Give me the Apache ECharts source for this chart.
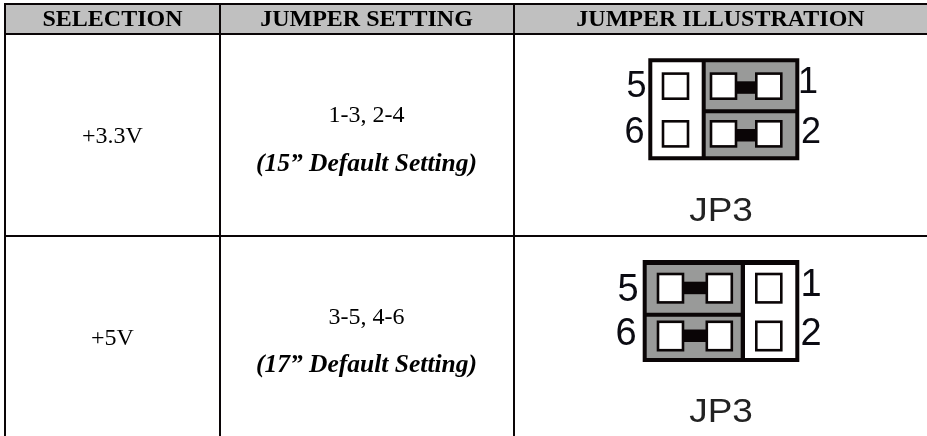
<!DOCTYPE html>
<html>
<head>
<meta charset="utf-8">
<style>html,body{margin:0;padding:0;background:#fff}#c{width:927px;height:436px}</style>
<script src="https://cdn.jsdelivr.net/npm/echarts@6/dist/echarts.min.js"></script>
</head>
<body>
<div id="c"></div>
<script>
var headers = ['SELECTION', 'JUMPER SETTING', 'JUMPER ILLUSTRATION'];
var selections = ['+3.3V', '+5V'];
var settings = ['1-3, 2-4', '3-5, 4-6'];
var notes = ['(15\u201D Default Setting)', '(17\u201D Default Setting)'];
var jumperName = ['JP3', 'JP3'];
var pinLabelsLeft = ['5', '6'];
var pinLabelsRight = ['1', '2'];
var shuntedSide = ['right', 'left'];

var BLACK = '#0a0506', GRAY = '#999a99', HEAD = '#c0c0c0';
var SERIF = '"Liberation Serif", serif', SANS = '"Liberation Sans", sans-serif';

function maker(api) {
  function rect(x0, y0, x1, y1, fill) {
    var a = api.coord([x0, y0]), b = api.coord([x1, y1]);
    return { type: 'rect', shape: { x: a[0], y: a[1], width: b[0] - a[0], height: b[1] - a[1] }, style: { fill: fill } };
  }
  function text(s, x, y, font, opt) {
    var a = api.coord([x, y]);
    return { type: 'text', style: Object.assign({ text: s, x: a[0], y: a[1], font: font, fill: '#000', align: 'center', verticalAlign: 'middle' }, opt || {}) };
  }
  return { rect: rect, text: text };
}

function renderFrame(params, api) {
  var m = maker(api);
  return { type: 'group', children: [
    m.rect(4, 5, 927, 33, HEAD),
    m.rect(4, 3, 927, 5, BLACK),
    m.rect(4, 33, 927, 35, BLACK),
    m.rect(4, 235, 927, 237, BLACK),
    m.rect(4, 3, 6, 436, BLACK),
    m.rect(219, 3, 221, 436, BLACK),
    m.rect(513, 3, 515, 436, BLACK)
  ]};
}

function renderHeader(params, api) {
  var m = maker(api), centers = [112.5, 366.5, 720.5];
  var i = api.value(0);
  return m.text(headers[i], centers[i], 19.5, 'bold 24px ' + SERIF);
}

function pin(m, x, y, w, h) {
  return [m.rect(x, y, x + w, y + h, BLACK), m.rect(x + 2.6, y + 2.6, x + w - 2.6, y + h - 2.6, '#fff')];
}

function renderRow(params, api) {
  var m = maker(api), r = api.value(0), kids = [];
  var right = shuntedSide[r] === 'right';
  var top = r === 0 ? 58.3 : 260;
  var L = r === 0 ? 648.3 : 642.7, R = 799.3;
  var y0 = top + 4, y1 = top + 51, y2 = top + 55, y3 = top + 98;
  if (r === 1) { y0 = top + 5; y1 = top + 52.7; y2 = top + 56.7; y3 = top + 98; }
  var bottom = top + 102;

  kids.push(m.text(selections[r], 112.5, r === 0 ? 137 : 339, '24px ' + SERIF));
  kids.push(m.text(settings[r], 366.5, r === 0 ? 116 : 318, '24px ' + SERIF));
  kids.push(m.text(notes[r], 366.5, r === 0 ? 164 : 365, 'italic bold 25.5px ' + SERIF));

  kids.push(m.rect(L, top, R, bottom, BLACK));
  var divA = right ? 701.7 : 740.7, divB = right ? 705.7 : 745;
  var innerL = L + 4, innerR = R - 4;
  kids.push(m.rect(right ? innerL : divB, y0, right ? divA : innerR, y3, '#fff'));
  var gA = right ? divB : innerL, gB = right ? innerR : divA;
  kids.push(m.rect(gA, y0, gB, y1, GRAY));
  kids.push(m.rect(gA, y2, gB, y3, GRAY));

  var xs = right ? [661.7, 709.7, 755] : [656.7, 705.5, 755];
  var w = 27.6;
  [top + (right ? 14 : 12.7), top + (right ? 61.7 : 60.5)].forEach(function (py) {
    var h = right ? 27.7 : 31;
    var a = right ? xs[1] : xs[0], b = right ? xs[2] : xs[1];
    kids.push(m.rect(a + w - 1, py + 9, b + 1, py + 21.5, BLACK));
    xs.forEach(function (x) { pin(m, x, py, w, h).forEach(function (e) { kids.push(e); }); });
  });

  var digit = (r === 0 ? '36px ' : '38px ') + SANS, ink = { fill: '#0b0b12' };
  kids.push(m.text(pinLabelsLeft[0], r === 0 ? 636.5 : 628, r === 0 ? 87.5 : 291, digit, ink));
  kids.push(m.text(pinLabelsLeft[1], r === 0 ? 634.5 : 626, r === 0 ? 133.5 : 335, digit, ink));
  kids.push(m.text(pinLabelsRight[0], r === 0 ? 808 : 811, r === 0 ? 83.5 : 286, digit, ink));
  kids.push(m.text(pinLabelsRight[1], 811, r === 0 ? 133 : 335, digit, ink));

  var jp = m.text(jumperName[r], 0, 0, '33px ' + SANS, { fill: '#222' });
  var o = api.coord([721, r === 0 ? 211.5 : 413]);
  jp.x = o[0]; jp.y = o[1]; jp.scaleX = 1.12;
  kids.push(jp);
  return { type: 'group', children: kids };
}

var chart = echarts.init(document.getElementById('c'), null, { renderer: 'canvas' });
chart.setOption({
  animation: false,
  backgroundColor: '#fff',
  grid: { left: 0, right: 0, top: 0, bottom: 0 },
  xAxis: { type: 'value', min: 0, max: 927, show: false },
  yAxis: { type: 'value', min: 0, max: 436, inverse: true, show: false },
  tooltip: { show: false },
  series: [
    { type: 'custom', coordinateSystem: 'cartesian2d', clip: false, silent: true, data: [[0]], renderItem: renderFrame, z: 1 },
    { type: 'custom', coordinateSystem: 'cartesian2d', clip: false, silent: true, data: headers.map(function (h, i) { return [i]; }), renderItem: renderHeader, z: 2 },
    { type: 'custom', coordinateSystem: 'cartesian2d', clip: false, silent: true, data: selections.map(function (s, i) { return [i]; }), renderItem: renderRow, z: 3 }
  ]
});
</script>
</body>
</html>
